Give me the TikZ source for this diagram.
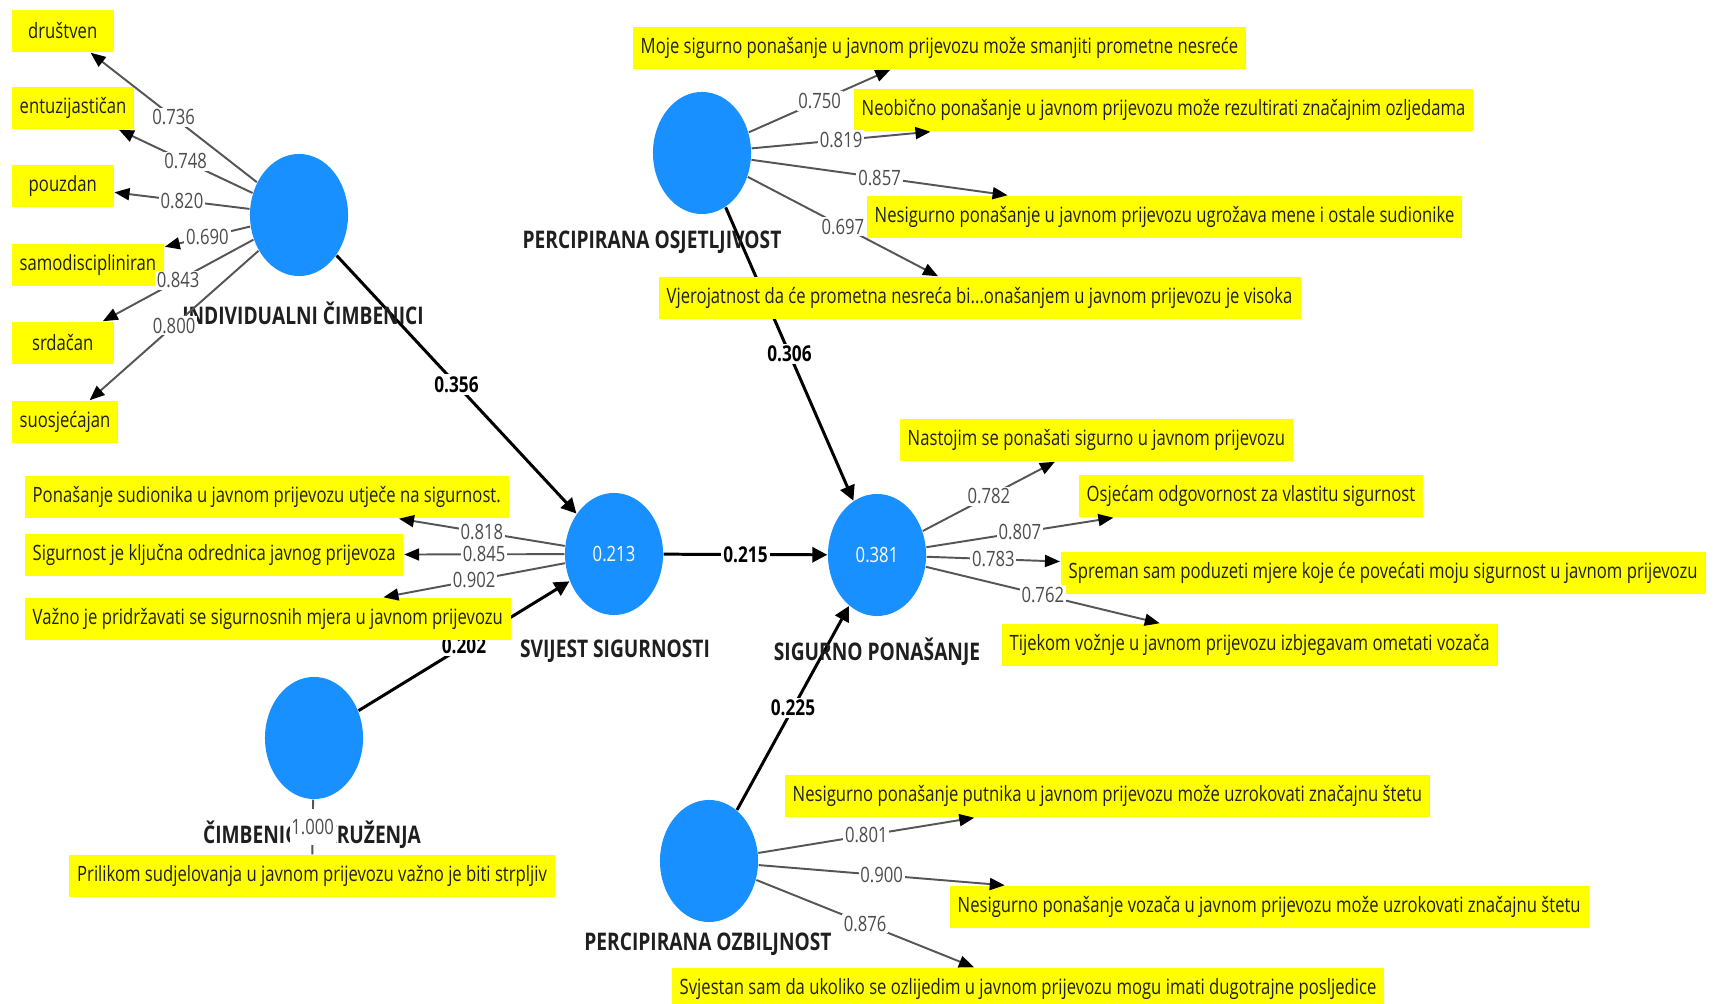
\documentclass[tikz,border=0pt]{standalone}
\usepackage{fontspec}
\setmainfont[FakeStretch=0.79]{Open Sans}
\usetikzlibrary{arrows.meta,shapes.geometric}
\definecolor{Plava}{HTML}{1890FF}
\definecolor{Zuta}{HTML}{FFFF00}
\definecolor{Tekst}{HTML}{1F1F1F}
\definecolor{SivaLinija}{HTML}{555555}
\definecolor{SivaBroj}{HTML}{4D4D4D}
\pgfdeclarelayer{back}
\pgfsetlayers{back,main}

\begin{document}
\begin{tikzpicture}[
  x=0.01cm, y=-0.01cm,
  every node/.style={font=\fontsize{6}{7}\selectfont},
  latent/.style={ellipse,fill=Plava,minimum width=0.98cm,minimum height=1.22cm,inner sep=0pt,text=white},
  item/.style={fill=Zuta,anchor=west,minimum width=1.02cm,minimum height=0.42cm,inner xsep=0.08cm,inner ysep=0pt,text=Tekst},
  lvname/.style={font=\bfseries\fontsize{6.9}{8}\selectfont,text=Tekst},
  loading/.style={draw=SivaLinija,line width=0.55pt,-{Triangle[length=1.5mm,width=1.2mm,color=black]}},
  effect/.style={draw=black,line width=0.85pt,-{Triangle[length=1.5mm,width=1.5mm]}},
  lbl/.style={midway,fill=white,inner sep=0.5pt,text=SivaBroj},
  coef/.style={midway,fill=white,inner sep=0.6pt,font=\bfseries\fontsize{6.2}{7}\selectfont}
]
  \begin{pgfonlayer}{back}
    \fill[white] (0,0) rectangle (1719,1004);
  \end{pgfonlayer}
  \useasboundingbox (0,0) rectangle (1719,1004);

  % konstrukti
  \node[latent] (ic) at (299,215) {};
  \node[latent] (po) at (702,153) {};
  \node[latent] (ss) at (614,554) {0.213};
  \node[latent] (sp) at (877,555) {0.381};
  \node[latent] (co) at (314,738) {};
  \node[latent] (poz) at (709,861) {};

  \node[lvname] (icn) at (303,313) {INDIVIDUALNI ČIMBENICI};
  \node[lvname] (pon) at (652,242) {PERCIPIRANA OSJETLJIVOST};
  \node[lvname] (ssn) at (615,651) {SVIJEST SIGURNOSTI};
  \node[lvname] (spn) at (877,652) {SIGURNO PONAŠANJE};
  \node[lvname] (con) at (312,835) {ČIMBENICI OKRUŽENJA};
  \node[lvname] (pozn) at (708,944) {PERCIPIRANA OZBILJNOST};

  % indikatori
  \node[item] (ic1) at (11,31) {društven};
  \node[item] (ic2) at (11,108) {entuzijastičan};
  \node[item] (ic3) at (11,186) {pouzdan};
  \node[item] (ic4) at (11,265) {samodiscipliniran};
  \node[item] (ic5) at (11,343) {srdačan};
  \node[item] (ic6) at (11,422) {suosjećajan};

  \node[item] (po1) at (632,48) {Moje sigurno ponašanje u javnom prijevozu može smanjiti prometne nesreće};
  \node[item] (po2) at (853,110) {Neobično ponašanje u javnom prijevozu može rezultirati značajnim ozljedama};
  \node[item] (po3) at (866,217) {Nesigurno ponašanje u javnom prijevozu ugrožava mene i ostale sudionike};
  \node[item] (po4) at (658,298) {Vjerojatnost da će prometna nesreća bi...onašanjem u javnom prijevozu je visoka};

  \node[item] (ss1) at (24,497) {Ponašanje sudionika u javnom prijevozu utječe na sigurnost.};
  \node[item] (ss2) at (24,555) {Sigurnost je ključna odrednica javnog prijevoza};
  \node[item] (ss3) at (24,619) {Važno je pridržavati se sigurnosnih mjera u javnom prijevozu};

  \node[item,anchor=center] (co1) at (312,876) {Prilikom sudjelovanja u javnom prijevozu važno je biti strpljiv};

  \node[item] (sp1) at (899,440) {Nastojim se ponašati sigurno u javnom prijevozu};
  \node[item] (sp2) at (1078,496) {Osjećam odgovornost za vlastitu sigurnost};
  \node[item] (sp3) at (1060,573) {Spreman sam poduzeti mjere koje će povećati moju sigurnost u javnom prijevozu};
  \node[item] (sp4) at (1001,645) {Tijekom vožnje u javnom prijevozu izbjegavam ometati vozača};

  \node[item] (poz1) at (784,796) {Nesigurno ponašanje putnika u javnom prijevozu može uzrokovati značajnu štetu};
  \node[item] (poz2) at (949,907) {Nesigurno ponašanje vozača u javnom prijevozu može uzrokovati značajnu štetu};
  \node[item] (poz3) at (671,989) {Svjestan sam da ukoliko se ozlijedim u javnom prijevozu mogu imati dugotrajne posljedice};

  % strukturni model, ispod indikatora
  \begin{pgfonlayer}{back}
    \draw[effect] (ic) -- (ss) node[coef] {0.356};
    \draw[effect] (po) -- (sp) node[coef] {0.306};
    \draw[effect] (ss) -- (sp) node[coef] {0.215};
    \draw[effect] (co) -- (ss) node[coef] {0.202};
    \draw[effect] (poz) -- (sp) node[coef] {0.225};
  \end{pgfonlayer}

  % vanjska opterećenja
  \draw[loading] (ic) -- (ic1) node[lbl] {0.736};
  \draw[loading] (ic) -- (ic2) node[lbl] {0.748};
  \draw[loading] (ic) -- (ic3) node[lbl] {0.820};
  \draw[loading] (ic) -- (ic4) node[lbl] {0.690};
  \draw[loading] (ic) -- (ic5) node[lbl] {0.843};
  \draw[loading] (ic) -- (ic6) node[lbl] {0.800};

  \draw[loading] (po) -- (po1) node[lbl] {0.750};
  \draw[loading] (po) -- (po2) node[lbl] {0.819};
  \draw[loading] (po) -- (po3) node[lbl] {0.857};
  \draw[loading] (po) -- (po4) node[lbl] {0.697};

  \draw[loading] (ss) -- (ss1) node[lbl] {0.818};
  \draw[loading] (ss) -- (ss2) node[lbl] {0.845};
  \draw[loading] (ss) -- (ss3) node[lbl] {0.902};

  \draw[draw=SivaLinija,line width=0.55pt] (co) -- (co1)
    node[lbl,minimum height=0.35cm] {1.000};

  \draw[loading] (sp) -- (sp1) node[lbl] {0.782};
  \draw[loading] (sp) -- (sp2) node[lbl] {0.807};
  \draw[loading] (sp) -- (sp3) node[lbl] {0.783};
  \draw[loading] (sp) -- (sp4) node[lbl] {0.762};

  \draw[loading] (poz) -- (poz1) node[lbl] {0.801};
  \draw[loading] (poz) -- (poz2) node[lbl] {0.900};
  \draw[loading] (poz) -- (poz3) node[lbl] {0.876};
\end{tikzpicture}
\end{document}
